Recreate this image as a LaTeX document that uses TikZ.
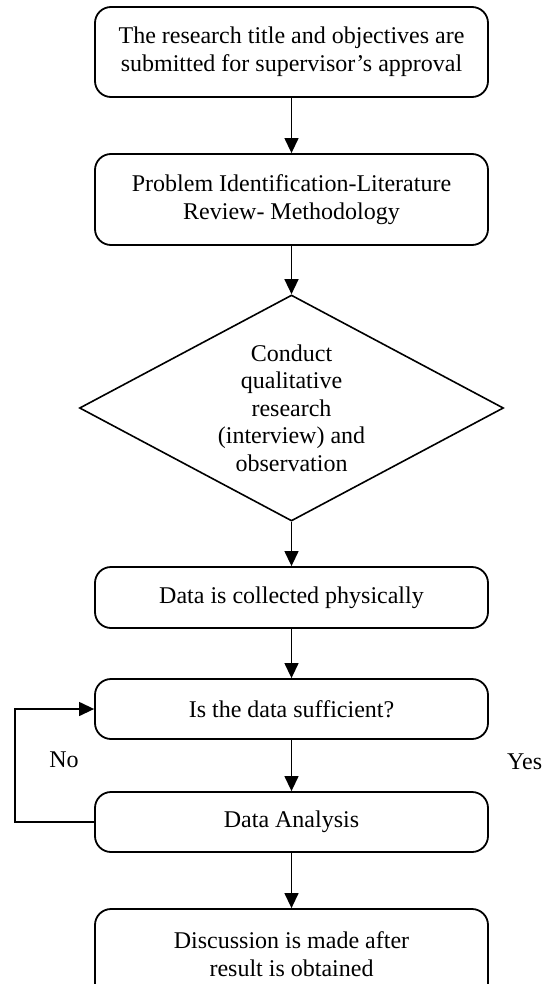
\documentclass[tikz,border=0pt]{standalone}
\usepackage{fontspec}
\setmainfont{Liberation Serif}
\usetikzlibrary{arrows.meta,shapes.geometric}
\begin{document}
\begin{tikzpicture}[x=1pt,y=-1pt,
 txt/.style={font=\fontsize{24}{27.6}\selectfont},
 box/.style={txt, draw, line width=1.8pt, rounded corners=16pt, minimum width=393pt, align=center, inner sep=0pt},
 dec/.style={txt, draw, diamond, line width=1.6pt, aspect=1.876, minimum width=424pt, minimum height=226pt, align=center, inner sep=0pt},
 conn/.style={line width=1.3pt, -{Triangle[length=15pt,width=14pt]}},
 lbl/.style={txt, inner sep=0pt}]
\useasboundingbox (0,0) rectangle (541,984);
\clip (0,0) rectangle (541,984);
\node[box, minimum height=90pt] (b1) at (291.5,52) {The research title and objectives are\\submitted for supervisor’s approval};
\node[box, minimum height=91pt] (b2) at (291.5,199.5) {Problem Identification-Literature\\Review- Methodology};
\node[dec] (d) at (291.5,408) {Conduct\\qualitative\\research\\(interview) and\\observation};
\node[box, minimum height=61pt] (b3) at (291.5,597.5) {Data is collected physically};
\node[box, minimum height=60pt] (b4) at (291.5,709) {Is the data sufficient?};
\node[box, minimum height=60pt] (b5) at (291.5,822) {Data Analysis};
\node[box, minimum height=90pt] (b6) at (291.5,954) {Discussion is made after\\result is obtained};
\coordinate (lp) at (15,0);
\draw[conn] (b1) -- (b2);
\draw[conn] (b2) -- (d);
\draw[conn] (d) -- (b3);
\draw[conn] (b3) -- (b4);
\draw[conn] (b4) -- (b5);
\draw[conn] (b5) -- (b6);
\draw[conn] (b5.west) -- (b5.west -| lp) |- (b4.west);
\node[lbl] (no) at (64,760) {No};
\node[lbl, anchor=west] (yes) at (507,762) {Yes};
\end{tikzpicture}
\end{document}
